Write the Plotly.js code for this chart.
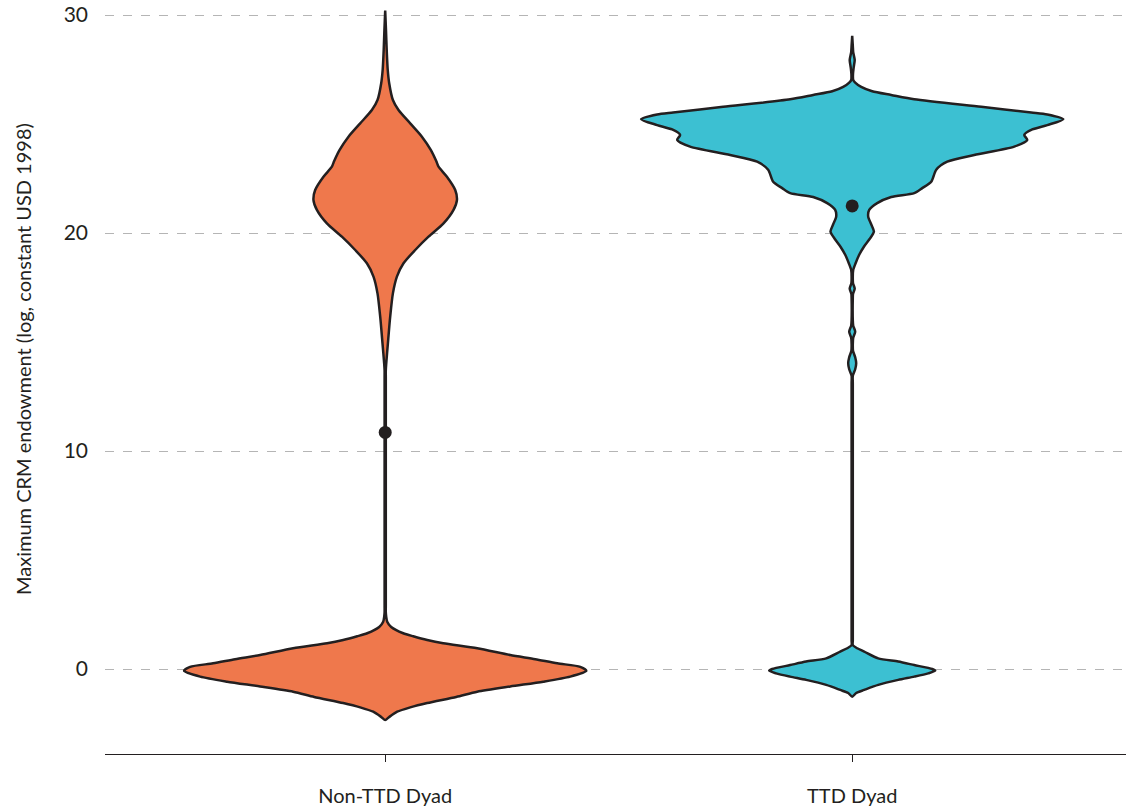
<!DOCTYPE html>
<html>
<head>
<meta charset="utf-8">
<script src="https://cdn.plot.ly/plotly-3.0.1.min.js"></script>
<style>
  html, body { margin: 0; padding: 0; background: #ffffff; }
  #chart { width: 1126px; height: 806px; }
</style>
</head>
<body>
<div id="chart"></div>
<script>
// Groups shown on the x axis
const categories = ['Non-TTD Dyad', 'TTD Dyad'];

// Kernel density profiles (relative density at each log endowment level)
const nonTtdLevels = [-2.34, -2.2, -1.96, -1.76, -1.56, -1.28, -1.04, -0.8, -0.58, -0.35, -0.08,
  0.1, 0.26, 0.45, 0.64, 0.95, 1.18, 1.33, 1.5, 1.64, 1.93, 2.17, 2.4, 2.6, 2.9,
  13.4, 13.7, 14.0, 14.94, 16.16, 17.23, 18.0, 18.61, 19.22, 19.83, 20.44, 21.06, 21.51,
  21.97, 22.58, 23.04, 23.3, 23.8, 24.42, 25.03, 25.64, 26.1, 26.87, 27.5, 28.4, 29.3, 30.2];
const nonTtdDensity = [0, 0.04, 0.12, 0.25, 0.42, 0.71, 0.92, 1.25, 1.58, 1.85, 2.01,
  1.95, 1.72, 1.5, 1.25, 0.92, 0.58, 0.42, 0.28, 0.18, 0.06, 0.02, 0.01, 0.006, 0.006,
  0.006, 0.006, 0.01, 0.027, 0.05, 0.077, 0.117, 0.183, 0.30, 0.433, 0.583, 0.683, 0.717,
  0.70, 0.617, 0.533, 0.51, 0.457, 0.367, 0.25, 0.133, 0.077, 0.04, 0.025, 0.015, 0.008, 0];

const ttdLevels = [-1.27, -1.1, -0.96, -0.73, -0.5, -0.35, -0.2, -0.08,
  0.0, 0.18, 0.34, 0.49, 0.8, 0.95, 1.1, 1.3, 1.6,
  13.1, 13.45, 13.75, 14.02, 14.3, 14.6, 14.9, 15.2, 15.47, 15.75, 16.0, 17.0, 17.2, 17.45, 17.7, 18.0, 18.3,
  18.6, 19.0, 19.37, 19.7, 20.06, 20.4, 20.75, 21.06, 21.37, 21.65, 21.83, 22.06,
  22.35, 22.9, 23.27, 23.58, 23.96, 24.27, 24.5, 24.75, 24.95, 25.22, 25.44, 25.53,
  25.79, 26.13, 26.33, 26.5, 26.7, 26.9, 27.02, 27.3, 27.6, 27.94, 28.3, 28.6, 29.04];
const ttdDensity = [0, 0.04, 0.12, 0.26, 0.46, 0.62, 0.76, 0.83,
  0.80, 0.62, 0.46, 0.26, 0.12, 0.05, 0.006, 0.006, 0.006,
  0.006, 0.006, 0.03, 0.04, 0.03, 0.008, 0.006, 0.01, 0.03, 0.01, 0.006, 0.006, 0.008, 0.025, 0.008, 0.006, 0.01,
  0.033, 0.07, 0.117, 0.17, 0.217, 0.19, 0.16, 0.17, 0.25, 0.39, 0.62, 0.70,
  0.79, 0.84, 0.95, 1.22, 1.62, 1.75, 1.72, 1.80, 1.95, 2.11, 1.95, 1.79,
  1.29, 0.62, 0.39, 0.20, 0.09, 0.03, 0.01, 0.008, 0.015, 0.025, 0.01, 0.006, 0];

// Group means
const groupMeans = [10.85, 21.24];

const fills = ['#EF784C', '#3CC0D2'];
const outline = '#231F20';
const maxHalfWidth = 0.452;   // widest half-violin, in category units
const densityPeak = Math.max(...nonTtdDensity, ...ttdDensity);

function violinTrace(levels, density, pos, fill, name) {
  const xs = [], ys = [];
  // right side going up, then left side coming back down
  for (let i = 0; i < levels.length; i++) {
    xs.push(pos + density[i] / densityPeak * maxHalfWidth);
    ys.push(levels[i]);
  }
  for (let i = levels.length - 1; i >= 0; i--) {
    xs.push(pos - density[i] / densityPeak * maxHalfWidth);
    ys.push(levels[i]);
  }
  return {
    type: 'scatter', mode: 'lines', x: xs, y: ys, name: name,
    fill: 'toself', fillcolor: fill,
    line: { color: outline, width: 2.5, shape: 'spline', smoothing: 0.7 },
    hoverinfo: 'skip', showlegend: false
  };
}

const traces = [
  violinTrace(nonTtdLevels, nonTtdDensity, 0, fills[0], categories[0]),
  violinTrace(ttdLevels, ttdDensity, 1, fills[1], categories[1]),
  {
    type: 'scatter', mode: 'markers', x: [0, 1], y: groupMeans,
    marker: { color: outline, size: 13 }, showlegend: false, hoverinfo: 'y'
  }
];

const layout = {
  width: 1126, height: 806,
  margin: { l: 105, r: 0, t: 0, b: 52 },
  paper_bgcolor: '#ffffff', plot_bgcolor: '#ffffff',
  font: { family: 'Lato, "Open Sans", sans-serif', color: '#231F20' },
  showlegend: false,
  xaxis: {
    range: [-0.6, 1.5863],
    tickvals: [0, 1], ticktext: categories,
    ticks: 'outside', ticklen: 7, tickwidth: 1, tickcolor: '#231F20',
    showline: true, linecolor: '#231F20', linewidth: 1.3,
    showgrid: false, zeroline: false,
    tickfont: { size: 20, color: '#231F20' },
    ticklabelstandoff: 17,
    fixedrange: true
  },
  yaxis: {
    range: [-3.899, 30.688],
    tickvals: [0, 10, 20, 30],
    ticks: '', showline: false, zeroline: false,
    showgrid: true, gridcolor: '#b5b5b5', gridwidth: 1, griddash: 'dash',
    tickfont: { size: 21, color: '#231F20' },
    ticklabelstandoff: 16,
    fixedrange: true
  },
  annotations: [{
    text: 'Maximum CRM endowment (log, constant USD 1998)',
    xref: 'paper', yref: 'paper',
    x: (23 - 105) / 1021, y: (754 - 359) / 754,
    xanchor: 'center', yanchor: 'middle',
    textangle: -90, showarrow: false,
    font: { size: 20, color: '#231F20' }
  }]
};

Plotly.newPlot('chart', traces, layout, { displayModeBar: false, staticPlot: true });
</script>
</body>
</html>
